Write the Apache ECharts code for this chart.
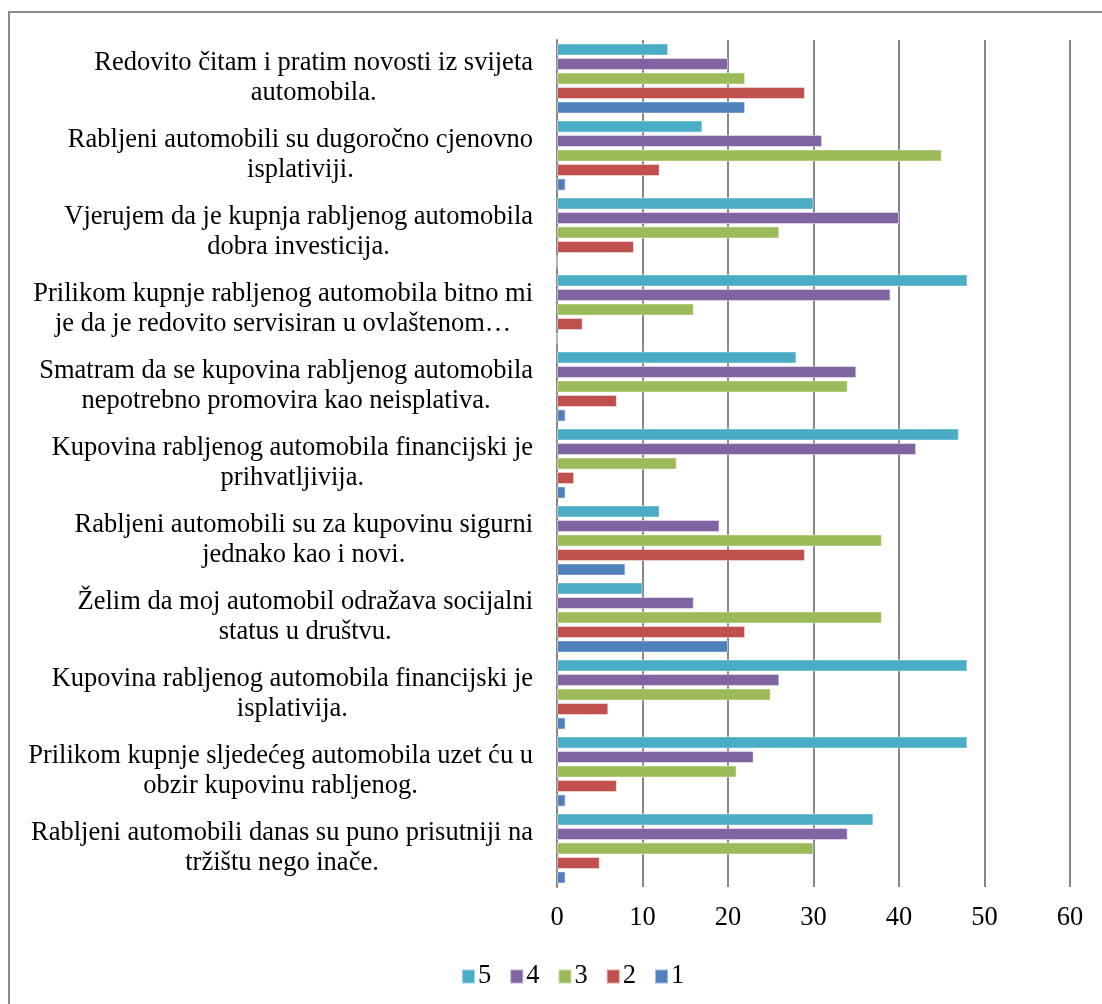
<!DOCTYPE html>
<html>
<head>
<meta charset="utf-8">
<script src="https://cdn.jsdelivr.net/npm/echarts@6/dist/echarts.min.js"></script>
<style>
  html, body { margin: 0; padding: 0; background: #fff; }
  #chart { width: 1102px; height: 1004px; }
</style>
</head>
<body>
<div id="chart"></div>
<script>
// izjave (odozgo prema dolje)
var categories = [
  "Redovito čitam i pratim novosti iz svijeta\nautomobila.",
  "Rabljeni automobili su dugoročno cjenovno\nisplativiji.",
  "Vjerujem da je kupnja rabljenog automobila\ndobra investicija.",
  "Prilikom kupnje rabljenog automobila bitno mi\nje da je redovito servisiran u ovlaštenom…",
  "Smatram da se kupovina rabljenog automobila\nnepotrebno promovira kao neisplativa.",
  "Kupovina rabljenog automobila financijski je\nprihvatljivija.",
  "Rabljeni automobili su za kupovinu sigurni\njednako kao i novi.",
  "Želim da moj automobil odražava socijalni\nstatus u društvu.",
  "Kupovina rabljenog automobila financijski je\nisplativija.",
  "Prilikom kupnje sljedećeg automobila uzet ću u\nobzir kupovinu rabljenog.",
  "Rabljeni automobili danas su puno prisutniji na\ntržištu nego inače."
];

// ocjene 5..1
var seriesNames = ["5", "4", "3", "2", "1"];
var ocjena5 = [13, 17, 30, 48, 28, 47, 12, 10, 48, 48, 37];
var ocjena4 = [20, 31, 40, 39, 35, 42, 19, 16, 26, 23, 34];
var ocjena3 = [22, 45, 26, 16, 34, 14, 38, 38, 25, 21, 30];
var ocjena2 = [29, 12, 9, 3, 7, 2, 29, 22, 6, 7, 5];
var ocjena1 = [22, 1, 0, 0, 1, 1, 8, 20, 1, 1, 1];

var xTicks = [0, 10, 20, 30, 40, 50, 60];

var colors = ["#4BACC6", "#8064A2", "#9BBB59", "#C0504D", "#4F81BD"];
var values = [ocjena5, ocjena4, ocjena3, ocjena2, ocjena1];
var font = "'Liberation Serif', 'Times New Roman', serif";

var series = seriesNames.map(function (name, i) {
  return {
    name: name,
    type: "bar",
    data: values[i],
    barGap: "20%",
    barCategoryGap: "9%",
    itemStyle: { color: colors[i], borderColor: "rgba(255,255,255,0.45)", borderWidth: 1 },
    emphasis: { disabled: true }
  };
});

var option = {
  backgroundColor: "#fff",
  animation: false,
  color: colors,
  graphic: [{
    type: "rect",
    shape: { x: 9, y: 12, width: 2000, height: 2000 },
    style: { fill: "none", stroke: "#8a8a8a", lineWidth: 2 },
    silent: true
  }],
  grid: { left: 557, right: 32, top: 40, bottom: 117 },
  legend: {
    data: seriesNames,
    left: 456,
    top: 958,
    icon: "rect",
    itemWidth: 13,
    itemHeight: 14,
    itemGap: 18,
    textStyle: { fontFamily: font, fontSize: 26.5, color: "#000", padding: [0, 0, 0, -2] }
  },
  xAxis: {
    type: "value",
    min: xTicks[0],
    max: xTicks[xTicks.length - 1],
    interval: 10,
    axisLine: { show: false },
    axisTick: { show: false },
    splitLine: { lineStyle: { color: "#888888", width: 2 } },
    axisLabel: { margin: 18, fontFamily: font, fontSize: 26.5, color: "#000" }
  },
  yAxis: {
    type: "category",
    inverse: true,
    data: categories,
    axisLine: { show: true, lineStyle: { color: "#888888", width: 2 } },
    axisTick: { show: false },
    axisLabel: {
      margin: 24,
      formatter: function (v) { return "{a|" + v + "}"; },
      rich: {
        a: { fontFamily: font, fontSize: 26.5, lineHeight: 30, color: "#000", align: "center" }
      }
    }
  },
  series: series
};

var myChart = echarts.init(document.getElementById("chart"));
myChart.setOption(option);
</script>
</body>
</html>
